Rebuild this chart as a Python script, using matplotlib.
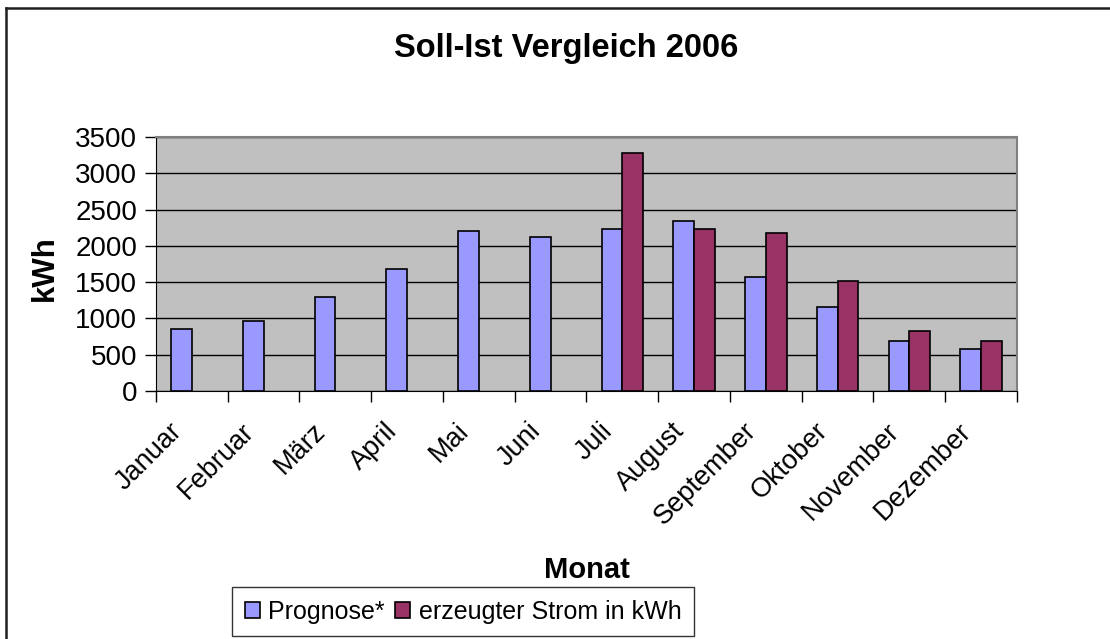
import numpy as np
import matplotlib
matplotlib.use('Agg')
import matplotlib.pyplot as plt
from matplotlib.lines import Line2D
from matplotlib.transforms import ScaledTranslation

plt.rcParams['font.family'] = ['Liberation Sans', 'DejaVu Sans']

months = ['Januar', 'Februar', 'März', 'April', 'Mai', 'Juni', 'Juli',
          'August', 'September', 'Oktober', 'November', 'Dezember']
prognose = [850, 960, 1295, 1680, 2200, 2125, 2230, 2340, 1570, 1155, 685, 580]
erzeugt = [0, 0, 0, 0, 0, 0, 3285, 2230, 2175, 1515, 825, 685]

fig = plt.figure(figsize=(11.1, 6.39), dpi=100)
ax = fig.add_axes([0.1405, 0.3881, 0.7757, 0.3975])
ax.set_facecolor('#C0C0C0')

x = np.arange(len(months))
w = 0.29
ax.bar(x - w / 2, prognose, w, color='#9999FF', edgecolor='black', linewidth=1.2,
       label='Prognose*', zorder=3)
red = [v if v > 0 else np.nan for v in erzeugt]
ax.bar(x + w / 2, red, w, color='#993366', edgecolor='black', linewidth=1.2,
       label='erzeugter Strom in kWh', zorder=3)

ax.set_xlim(-0.5, 11.5)
ax.set_ylim(0, 3500)
ax.set_yticks(range(0, 3501, 500))
ax.yaxis.grid(True, color='black', linewidth=1)
ax.set_axisbelow(True)

ax.tick_params(axis='y', labelsize=20, length=8, width=1, direction='out', pad=5.5)
ax.set_xticks(x)
ax.set_xticks(np.arange(-0.5, 12, 1), minor=True)
ax.tick_params(axis='x', which='major', length=0, pad=19.5)
ax.tick_params(axis='x', which='minor', length=8, width=1, direction='out')
ax.set_xticklabels(months, rotation=45, ha='right', va='top',
                   rotation_mode='anchor', fontsize=19.5)
offset = ScaledTranslation(-0.23, 0, fig.dpi_scale_trans)
for lab in ax.get_xticklabels():
    lab.set_transform(lab.get_transform() + offset)

for side in ['top', 'right']:
    ax.spines[side].set_color('#808080')
    ax.spines[side].set_linewidth(1.5)
ax.spines['left'].set_color('black')
ax.spines['bottom'].set_color('black')

ax.set_ylabel('kWh', fontsize=22.5, fontweight='bold')
ax.yaxis.set_label_coords(-0.112, 0.485)

fig.text(587 / 1110, 1 - 578 / 639, 'Monat', fontsize=21, fontweight='bold',
         ha='center', va='baseline')
fig.text(566 / 1110, 1 - 57 / 639, 'Soll-Ist Vergleich 2006', fontsize=23.5,
         fontweight='bold', ha='center', va='baseline')

leg = fig.legend(loc='lower left', bbox_to_anchor=(232 / 1110, 3 / 639),
                 ncol=2, fontsize=18, frameon=True, fancybox=False,
                 edgecolor='black', handlelength=0.6, handleheight=0.6,
                 handletextpad=0.35, columnspacing=0.4, borderpad=0.5,
                 borderaxespad=0)
leg.get_frame().set_linewidth(1)

# chart border (only left and top visible in the crop)
fig.add_artist(Line2D([6 / 1110, 6 / 1110], [0, 1 - 8 / 639], color='#202020',
                      linewidth=1.8, transform=fig.transFigure))
fig.add_artist(Line2D([6 / 1110, 1], [1 - 8 / 639, 1 - 8 / 639], color='#202020',
                      linewidth=1.8, transform=fig.transFigure))

plt.savefig('out.png', dpi=100)
